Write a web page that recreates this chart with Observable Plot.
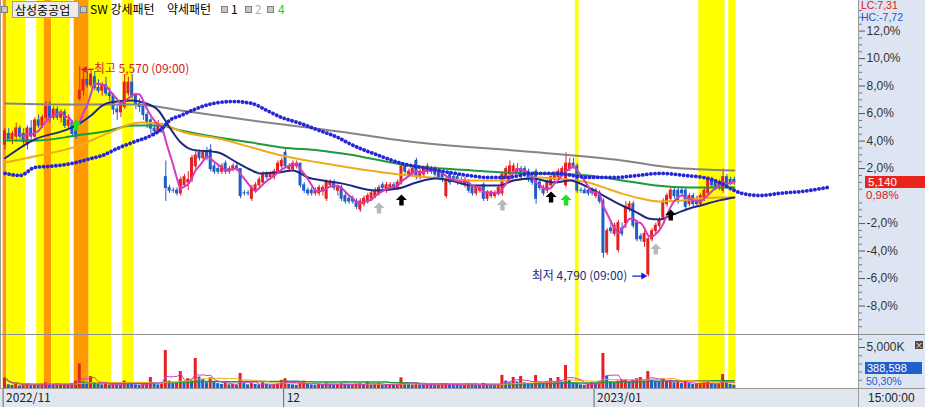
<!DOCTYPE html>
<html><head><meta charset="utf-8">
<script src="https://cdn.jsdelivr.net/npm/d3@7"></script>
<script src="https://cdn.jsdelivr.net/npm/@observablehq/plot@0.6"></script>
<style>
body{margin:0;background:#fff;}
#wrap{position:relative;width:925px;height:407px;overflow:hidden;font-family:"Noto Sans CJK KR","Noto Sans",sans-serif;font-size:12px;}
.abs{position:absolute;}
.num{font-family:"Liberation Sans","DejaVu Sans",sans-serif;white-space:nowrap;}
.ico{position:absolute;width:5px;height:5px;background:#c8c8c8;border:1px solid #808080;top:6px;}
.lt{position:absolute;top:1px;line-height:16px;white-space:nowrap;color:#000;}
</style></head><body><div id="wrap">
<div class="abs" style="left:858px;top:0;width:67px;height:407px;background:#dde5f3"></div>
<div class="abs" style="left:0;top:389px;width:925px;height:18px;background:#e2e7ef"></div>
<div id="main" class="abs" style="left:0;top:0"></div>
<div id="vol" class="abs" style="left:0;top:335px"></div>
<div id="axis" class="abs" style="left:0;top:389px"></div>
<div class="abs" style="left:0;top:334px;width:925px;height:1px;background:#8e8e8e"></div>
<div class="abs" style="left:0;top:388px;width:925px;height:1px;background:#9a9a9a"></div>
<div class="abs" style="left:858px;top:0;width:1px;height:407px;background:#9a9a9a"></div>
<div class="abs" style="left:0;top:0;width:1px;height:389px;background:#9a9a9a"></div>
<div id="overlay"></div>
</div>
<script>
// ---------- data ----------
const open = [
5280,5320,5300,5310,5340,5320,5280,5340,5310,5370,
5350,5380,5420,5380,5410,5380,5400,5350,5360,5330,
5450,5480,5520,5500,5530,5490,5480,5500,5470,5460,
5410,5400,5420,5470,5510,5460,5430,5420,5390,5370,
5340,5330,5350,5160,5120,5110,5110,5100,5130,5140,
5150,5200,5250,5230,5250,5260,5200,5190,5180,5210,
5180,5190,5200,5190,5100,5100,5080,5110,5130,5140,
5170,5160,5160,5180,5200,5250,5190,5190,5200,5210,
5130,5110,5110,5100,5100,5110,5080,5130,5140,5110,
5120,5090,5080,5080,5070,5040,5060,5070,5080,5090,
5100,5130,5110,5120,5130,5120,5140,5200,5170,5170,
5220,5160,5170,5180,5180,5190,5180,5170,5090,5170,
5160,5160,5150,5130,5140,5120,5100,5110,5130,5080,
5090,5090,5100,5100,5160,5170,5180,5180,5190,5190,
5180,5160,5180,5140,5120,5110,5130,5150,5160,5170,
5130,5190,5210,5200,5110,5110,5110,5110,5090,5100,
5070,4880,4970,4950,4890,4970,4990,5040,5060,4990,
4940,4920,4800,4930,4960,4980,5010,5060,5080,5110,
5110,5110,5110,5060,5090,5080,5060,5080,5100,5150,
5140,5120,5110,5160,5150,5150];
const high = [
5340,5340,5330,5360,5350,5340,5350,5370,5380,5390,
5390,5440,5440,5420,5420,5410,5410,5390,5370,5340,
5570,5560,5550,5560,5550,5520,5510,5530,5490,5470,
5430,5440,5540,5530,5540,5470,5450,5430,5400,5380,
5360,5370,5360,5220,5130,5120,5120,5160,5170,5180,
5240,5260,5260,5260,5270,5280,5210,5200,5210,5220,
5200,5210,5210,5190,5110,5110,5130,5140,5160,5180,
5180,5180,5190,5220,5230,5270,5210,5220,5220,5210,
5140,5120,5120,5120,5130,5130,5150,5150,5150,5130,
5130,5100,5090,5090,5080,5080,5090,5100,5110,5120,
5130,5140,5140,5140,5140,5150,5210,5210,5190,5200,
5230,5190,5200,5210,5200,5200,5190,5180,5160,5180,
5170,5170,5160,5160,5150,5130,5130,5130,5140,5110,
5110,5110,5130,5180,5200,5220,5210,5210,5200,5200,
5190,5170,5190,5150,5130,5150,5170,5180,5190,5200,
5250,5230,5230,5210,5120,5120,5120,5120,5120,5110,
5080,4970,4990,4990,5000,4990,5070,5070,5070,5000,
4950,4960,4940,4970,4990,5010,5080,5100,5120,5120,
5120,5120,5120,5100,5100,5090,5100,5120,5160,5160,
5150,5150,5190,5170,5160,5160];
const low = [
5260,5300,5280,5290,5300,5270,5260,5290,5300,5340,
5340,5370,5360,5370,5370,5360,5340,5340,5310,5300,
5440,5460,5490,5490,5480,5470,5460,5460,5440,5390,
5370,5380,5410,5460,5450,5410,5400,5370,5340,5320,
5310,5320,5320,5070,5100,5100,5090,5090,5120,5110,
5140,5190,5220,5220,5220,5180,5170,5170,5170,5170,
5170,5180,5180,5080,5090,5090,5070,5100,5120,5130,
5150,5150,5150,5170,5190,5190,5180,5180,5190,5120,
5100,5090,5090,5090,5090,5090,5070,5120,5110,5090,
5070,5060,5060,5060,5040,5030,5050,5060,5070,5080,
5090,5110,5100,5110,5110,5110,5130,5170,5160,5160,
5150,5150,5160,5170,5170,5160,5150,5140,5080,5130,
5140,5130,5130,5120,5100,5090,5090,5100,5070,5070,
5080,5080,5090,5090,5150,5160,5170,5170,5150,5160,
5140,5130,5060,5110,5090,5100,5120,5140,5150,5160,
5120,5180,5190,5100,5100,5100,5090,5090,5080,5060,
4860,4870,4950,4940,4880,4940,4970,5030,4970,4920,
4920,4900,4790,4920,4950,4970,5000,5050,5070,5080,
5060,5090,5040,5050,5050,5050,5050,5070,5090,5120,
5110,5110,5100,5120,5130,5130];
const close = [
5330,5300,5320,5340,5310,5290,5340,5310,5370,5350,
5380,5420,5380,5410,5380,5400,5350,5370,5320,5310,
5480,5520,5500,5540,5490,5480,5500,5470,5460,5410,
5400,5430,5510,5510,5460,5430,5420,5390,5360,5340,
5330,5350,5330,5120,5110,5110,5100,5150,5160,5150,
5230,5240,5230,5250,5230,5190,5180,5180,5200,5180,
5190,5200,5190,5090,5100,5100,5120,5130,5150,5170,
5160,5170,5180,5210,5220,5200,5200,5210,5210,5130,
5110,5100,5100,5110,5120,5120,5140,5140,5120,5120,
5080,5070,5070,5070,5050,5070,5080,5090,5100,5110,
5120,5120,5130,5130,5120,5140,5200,5180,5180,5190,
5160,5180,5190,5200,5190,5170,5160,5150,5150,5140,
5150,5140,5140,5150,5110,5100,5120,5120,5080,5100,
5100,5100,5120,5170,5190,5200,5200,5190,5160,5170,
5150,5140,5080,5120,5100,5140,5160,5170,5180,5190,
5210,5210,5200,5110,5110,5100,5100,5100,5110,5070,
4880,4960,4960,4980,4990,4950,5050,5060,4980,4930,
4930,4950,4930,4960,4980,5000,5070,5090,5110,5090,
5070,5100,5050,5090,5060,5060,5090,5110,5150,5130,
5120,5140,5160,5130,5140,5140];
// volume in thousands of shares
const volume = [
1300,450,380,520,300,410,600,350,480,400,
520,700,450,380,560,420,500,480,620,900,
3000,800,600,1460,700,500,450,520,400,600,
450,380,900,600,500,450,400,500,600,1340,
500,450,600,4630,900,600,700,2070,800,1200,
1000,3660,1400,1100,700,1300,800,600,500,700,
450,500,400,1830,600,450,600,500,450,700,
500,400,450,550,1000,1200,500,450,400,700,
900,500,450,400,500,450,700,500,400,450,
600,500,400,450,550,600,500,800,450,500,
600,450,400,450,400,500,1300,600,500,450,
700,450,400,500,450,400,450,500,600,500,
450,400,350,450,550,500,400,350,600,450,
400,350,450,1600,900,700,1340,800,1460,700,
600,500,1580,700,600,800,1220,700,1340,800,
2800,1000,700,600,450,400,500,700,600,900,
4270,1500,800,700,900,1000,1100,800,1000,1200,
1340,900,2070,1000,900,800,1100,900,1000,700,
800,600,900,600,500,550,600,700,800,600,
500,550,1700,700,500,388.598];

// moving-average / indicator lines read at selected bars
const navyIdx = [0,8,16,18,23,26,28,34,37,41,44,47,50,57,62,66,68,73,77,81,85,90,99,105,110,115,119,125,132,136,141,147,151,156,160,165,169,172,175,178,183,186,191,195];
const navyVal = [5230,5300,5333,5344,5388,5425,5436,5444,5436,5407,5344,5288,5262,5251,5214,5185,5174,5177,5185,5159,5148,5137,5111,5118,5140,5155,5148,5129,5129,5148,5155,5140,5148,5122,5092,5055,5029,5007,5003,5018,5044,5055,5074,5085];
const orangeIdx = [0,9,19,28,36,41,48,57,66,74,84,92,108,117,125,134,143,147,156,160,165,170,175,181,186,191,195];
const orangeVal = [5214,5240,5273,5325,5362,5359,5325,5303,5270,5240,5214,5196,5166,5155,5148,5148,5159,5155,5140,5122,5099,5081,5070,5074,5081,5085,5085];
const greenIdx = [0,9,19,28,34,41,47,57,66,74,84,92,108,117,125,134,143,156,165,174,183,195];
const greenVal = [5296,5296,5314,5333,5351,5351,5333,5307,5288,5270,5259,5244,5203,5192,5185,5177,5174,5166,5148,5129,5122,5122];
const grayIdx = [0,20,35,47,66,93,106,143,165,178,195];
const grayVal = [5433,5429,5429,5407,5370,5322,5296,5251,5222,5196,5185];
const blueIdx = [0,4,8,12,18,23,26,30,34,39,42,44,47,50,52,57,61,66,70,74,79,84,89,92,100,106,113,119,124,129,134,141,147,156,163,169,175,182,188,191,195,197,202,207,213,220];
const blueVal = [5174,5166,5196,5200,5211,5229,5240,5266,5288,5314,5340,5370,5388,5407,5418,5436,5440,5433,5407,5381,5359,5333,5307,5285,5240,5211,5192,5177,5166,5159,5159,5174,5174,5159,5159,5166,5174,5166,5155,5140,5111,5100,5092,5100,5107,5122];

// pattern bands (bar index ranges)
const bandStart = [0,1,9,11,13,19,23,32,153,186,194];
const bandEnd   = [0,5,10,12,17,22,28,34,153,192,195];
const bandKind  = ["약세","강세","강세","약세","강세","약세","강세","강세","강세","강세","강세"];

// signal arrows
const sigIdx   = [19,100,106,133,146,150,174,178];
const sigPrice = [5351,5044,5074,5055,5085,5074,4892,5018];
const sigKind  = ["4","2","1","2","1","4","2","1"];

const monthFirstIdx = [0,75,158];
const monthLabel = ["2022/11","12","2023/01"];
const basePrice = 5090;
const pctMajor = [-8,-6,-4,-2,2,4,6,8,10,12];
const hiTime = "09:00", loTime = "09:00";
const lastTime = "15:00:00";
const volRatio = 50.30;

// ---------- drawing ----------
const FONT = '"Noto Sans CJK KR","Noto Sans",sans-serif';
const NUMFONT = '"Liberation Sans","DejaVu Sans",sans-serif';
const RED = "#e6201f", BLUE = "#1f5ec8";
const N = open.length;
const idx = d3.range(N);
const candleColor = i => close[i] > open[i] ? RED : BLUE;
const bandColor = {"강세": "#ffff00", "약세": "#ff9a00"};
const sigColor = {"1": "#000000", "2": "#b8b8b8", "4": "#22dd22"};
const bands = bandStart.map((s, k) => ({s, e: bandEnd[k], kind: bandKind[k]}));
const fmt = d3.format(",");
const comma = (v, d) => v.toFixed(d).replace(".", ",");
const X = {type: "linear", domain: [-1.2, 228.2], axis: null};

const upArrow = {draw(c){c.moveTo(0,-6);c.lineTo(5.5,-0.5);c.lineTo(2.2,-0.5);c.lineTo(2.2,5);c.lineTo(-2.2,5);c.lineTo(-2.2,-0.5);c.lineTo(-5.5,-0.5);c.closePath();}};
const leftArrow = {draw(c){c.moveTo(0,0);c.lineTo(6,-3.5);c.lineTo(6,3.5);c.closePath();c.moveTo(6,-0.6);c.lineTo(13,-0.6);c.lineTo(13,0.6);c.lineTo(6,0.6);c.closePath();}};
const rightArrow = {draw(c){c.moveTo(0,0);c.lineTo(-6,-3.5);c.lineTo(-6,3.5);c.closePath();c.moveTo(-6,-0.6);c.lineTo(-15,-0.6);c.lineTo(-15,0.6);c.lineTo(-6,0.6);c.closePath();}};

const maLine = (I, V, color, w) => Plot.line(I, {x: d => d, y: (d, k) => V[k], stroke: color, strokeWidth: w, curve: "monotone-x"});
const minorPct = d3.range(-20, 29).map(k => k / 2).filter(p => p % 2 !== 0);
const iHi = d3.maxIndex(high), iLo = d3.minIndex(low);
const STYLE = {background: "transparent", fontFamily: FONT, fontSize: "12px", color: "#333"};

const main = Plot.plot({
  width: 925, height: 334, marginLeft: 0, marginRight: 67, marginTop: 0, marginBottom: 0,
  style: STYLE,
  x: X,
  y: {domain: [4577.5, 5814], axis: null},
  color: {type: "identity"},
  marks: [
    Plot.rect(bands, {x1: d => d.s - 0.5, x2: d => d.e + 0.5, fill: d => bandColor[d.kind]}),
    Plot.ruleX(idx, {x: i => i, y1: i => low[i], y2: i => high[i], stroke: candleColor, strokeWidth: 1}),
    Plot.rect(idx, {x1: i => i - 0.4, x2: i => i + 0.4, y1: i => open[i], y2: i => close[i], fill: candleColor, insetTop: -0.5, insetBottom: -0.5}),
    maLine(grayIdx, grayVal, "#858585", 2),
    maLine(greenIdx, greenVal, "#1e9a3c", 2),
    maLine(orangeIdx, orangeVal, "#f0aa1a", 2),
    maLine(navyIdx, navyVal, "#1d2a7e", 2),
    Plot.line(idx, Plot.windowY({k: 5, anchor: "end", strict: true}, {x: i => i, y: i => close[i], stroke: "#d33cc0", strokeWidth: 2, curve: "monotone-x"})),
    Plot.line(blueIdx, {x: d => d, y: (d, k) => blueVal[k], stroke: "#2626d6", strokeWidth: 3.8, strokeDasharray: "0.1 4", strokeLinecap: "round", curve: "monotone-x"}),
    Plot.dot(sigIdx, {x: d => d, y: (d, k) => sigPrice[k], symbol: upArrow, fill: (d, k) => sigColor[sigKind[k]], stroke: null}),
    Plot.dot([iHi], {x: d => d, y: d => high[d], symbol: leftArrow, fill: "#e02020", stroke: null, dx: 1, dy: 3}),
    Plot.text([iHi], {x: d => d, y: d => high[d], text: d => `최고 ${fmt(high[d])} (${hiTime})`, textAnchor: "start", dx: 14, dy: 3, fill: "#d42424", fontSize: 12}),
    Plot.dot([iLo], {x: d => d, y: d => low[d], symbol: rightArrow, fill: "#1616e0", stroke: null, dx: -1, dy: -1}),
    Plot.text([iLo], {x: d => d, y: d => low[d], text: d => `최저 ${fmt(low[d])} (${loTime})`, textAnchor: "end", dx: -21, dy: -1, fill: "#22288a", fontSize: 12}),
    Plot.axisY({anchor: "right", ticks: minorPct.map(p => basePrice * (1 + p / 100)), tickSize: 3, tickFormat: () => "", stroke: "#777"}),
    Plot.axisY({anchor: "right", ticks: pctMajor.map(p => basePrice * (1 + p / 100)), tickSize: 6, tickPadding: 2, stroke: "#555", fill: "#333",
      fontFamily: NUMFONT, fontSize: 12, tickFormat: v => comma((v / basePrice - 1) * 100, 1) + "%"})
  ]
});
document.getElementById("main").append(main);

const volColor = i => (i === 0 || volume[i] >= volume[i - 1]) ? RED : BLUE;
const vol = Plot.plot({
  width: 925, height: 54, marginLeft: 0, marginRight: 67, marginTop: 0, marginBottom: 1,
  style: STYLE,
  x: X,
  y: {domain: [0, 6463], axis: null},
  color: {type: "identity"},
  marks: [
    Plot.rect(bands, {x1: d => d.s - 0.5, x2: d => d.e + 0.5, fill: d => bandColor[d.kind]}),
    Plot.rect(idx, {x1: i => i - 0.4, x2: i => i + 0.4, y1: 0, y2: i => volume[i], fill: volColor}),
    Plot.line(idx, Plot.windowY({k: 60, anchor: "end"}, {x: i => i, y: i => volume[i], stroke: "#1e9a3c", strokeWidth: 1.5})),
    Plot.line(idx, Plot.windowY({k: 20, anchor: "end"}, {x: i => i, y: i => volume[i], stroke: "#f0aa1a", strokeWidth: 1})),
    Plot.line(idx, Plot.windowY({k: 5, anchor: "end"}, {x: i => i, y: i => volume[i], stroke: "#d33cc0", strokeWidth: 1})),
    Plot.axisY({anchor: "right", ticks: [1000, 2000, 3000, 4000, 6000], tickSize: 3, tickFormat: () => "", stroke: "#777"}),
    Plot.axisY({anchor: "right", ticks: [5000], tickSize: 6, tickPadding: 2, stroke: "#555", fill: "#333", fontFamily: NUMFONT, fontSize: 12, tickFormat: v => fmt(v) + "K"})
  ]
});
document.getElementById("vol").append(vol);

const ax = Plot.plot({
  width: 925, height: 18, marginLeft: 0, marginRight: 67, marginTop: 0, marginBottom: 0,
  style: STYLE,
  x: X,
  marks: [
    Plot.tickX(monthFirstIdx, {x: d => d - 0.5, stroke: "#666"}),
    Plot.text(monthFirstIdx, {x: d => d - 0.5, text: (d, k) => monthLabel[k], textAnchor: "start", dx: 3, frameAnchor: "middle", fill: "#222"})
  ]
});
document.getElementById("axis").append(ax);

// ---------- labels / legend overlays ----------
const ys = main.scale("y");
const last = close[N - 1];
const yLast = ys.apply(last);
const lc = (last / d3.min(low) - 1) * 100, hc = (last / d3.max(high) - 1) * 100;
const pct = (last / basePrice - 1) * 100;
const ov = document.getElementById("overlay");
ov.innerHTML = `
<span class="ico" style="left:1px"></span>
<div class="lt" style="left:12px;top:1px;width:63px;height:15px;line-height:15px;background:#ececec;border:1px solid #9c9c9c;padding-left:2px">삼성중공업</div>
<span class="ico" style="left:80px"></span>
<div class="lt" style="left:90px">SW 강세패턴</div>
<div class="lt" style="left:167px">약세패턴</div>
<span class="ico" style="left:221px"></span><div class="lt" style="left:231px">1</div>
<span class="ico" style="left:245px"></span><div class="lt" style="left:255px;color:#b0b0b0">2</div>
<span class="ico" style="left:267px"></span><div class="lt" style="left:278px;color:#22cc22">4</div>
<div class="abs num" style="left:861px;top:0px;font-size:10.5px;line-height:11px;color:#e02020">LC:${comma(lc, 2)}</div>
<div class="abs num" style="left:861px;top:11.5px;font-size:10.5px;line-height:11px;color:#2255cc">HC:${comma(hc, 2)}</div>
<div class="abs num" style="left:865px;top:${yLast - 6}px;width:57px;height:12px;line-height:12px;font-size:11.5px;background:#e8241c;color:#fff;padding-left:3px">${fmt(last)}</div>
<div class="abs num" style="left:866px;top:${yLast + 7}px;line-height:12px;font-size:11.5px;color:#e02020">${comma(pct, 2)}%</div>
<div class="abs" style="left:915px;top:341px;width:8px;height:8px;background:#4a4a4a;color:#fff;font-size:8px;line-height:8px;text-align:center">×</div>
<div class="abs num" style="left:865px;top:362px;width:55px;height:12px;line-height:12px;font-size:11px;background:#2160cc;color:#fff;padding-left:2px">${fmt(Math.round(volume[N - 1] * 1000))}</div>
<div class="abs num" style="left:866px;top:375.5px;font-size:10.5px;line-height:11px;color:#2160cc">${comma(volRatio, 2)}%</div>
<div class="abs num" style="left:868px;top:391px;line-height:14px;color:#222">${lastTime}</div>
`;
</script></body></html>
